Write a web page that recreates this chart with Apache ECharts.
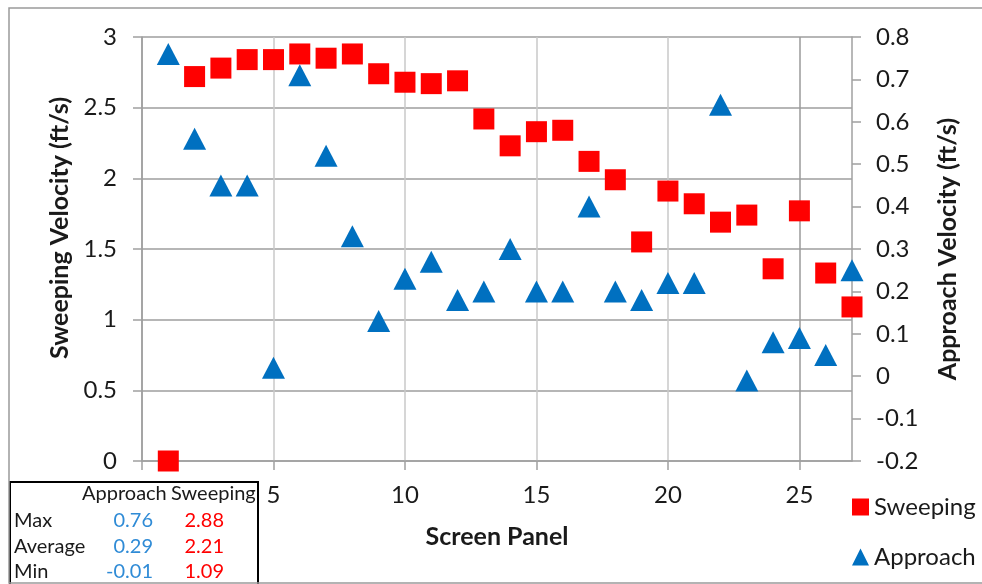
<!DOCTYPE html>
<html>
<head>
<meta charset="utf-8">
<script src="https://cdn.jsdelivr.net/npm/echarts@6/dist/echarts.min.js"></script>
<style>
  html, body { margin: 0; padding: 0; background: #fff; }
  #chart { width: 982px; height: 584px; }
</style>
</head>
<body>
<div id="chart"></div>
<script>
// Screen panel numbers along the horizontal axis
const panels = [1, 2, 3, 4, 5, 6, 7, 8, 9, 10, 11, 12, 13, 14, 15, 16, 17, 18, 19, 20, 21, 22, 23, 24, 25, 26, 27];

// Sweeping velocity per panel (ft/s), left axis
const sweeping = [0, 2.72, 2.78, 2.84, 2.84, 2.88, 2.85, 2.88, 2.74, 2.68, 2.67, 2.69, 2.42, 2.23, 2.33, 2.34, 2.12, 1.99, 1.55, 1.91, 1.82, 1.69, 1.74, 1.36, 1.77, 1.33, 1.09];

// Approach velocity per panel (ft/s), right axis
const approach = [0.76, 0.56, 0.45, 0.45, 0.02, 0.71, 0.52, 0.33, 0.13, 0.23, 0.27, 0.18, 0.20, 0.30, 0.20, 0.20, 0.40, 0.20, 0.18, 0.22, 0.22, 0.64, -0.01, 0.08, 0.09, 0.05, 0.25];

// Summary table
const statRows = ['Max', 'Average', 'Min'];
const approachStats = ['0.76', '0.29', '-0.01'];
const sweepingStats = ['2.88', '2.21', '1.09'];

// Axis tick labels
const xLabelValues = [5, 10, 15, 20, 25];
const xTickValues = [0, 5, 10, 15, 20, 25];

const FONT = 'Lato';
const TEXT = '#1a1a1a';
const BLUE = '#0070C0';
const RED = '#FF0000';
const AXIS_GRAY = '#a0a0a0';

// Plain hyphen-minus number formatting for tick labels
const fmt = (v) => String(Math.round(v * 10) / 10);

const chart = echarts.init(document.getElementById('chart'), null, { renderer: 'canvas' });

// Summary table drawn as a boxed block of text
const tableChildren = [
  { type: 'rect', shape: { x: 0, y: 0, width: 248, height: 110 },
    style: { fill: '#fff', stroke: '#000', lineWidth: 2 } },
  { type: 'text', x: 72, y: 12, style: { text: 'Approach', font: '20px ' + FONT, fill: TEXT, textVerticalAlign: 'middle' } },
  { type: 'text', x: 161, y: 12, style: { text: 'Sweeping', font: '20px ' + FONT, fill: TEXT, textVerticalAlign: 'middle' } }
];
const rowY = [39, 65, 90];
statRows.forEach((label, i) => {
  tableChildren.push({ type: 'text', x: 4, y: rowY[i],
    style: { text: label, font: '20px ' + FONT, fill: TEXT, textVerticalAlign: 'middle' } });
  tableChildren.push({ type: 'text', x: 143, y: rowY[i],
    style: { text: approachStats[i], font: '20px ' + FONT, fill: '#2F8BD6', textAlign: 'right', textVerticalAlign: 'middle' } });
  tableChildren.push({ type: 'text', x: 214, y: rowY[i],
    style: { text: sweepingStats[i], font: '20px ' + FONT, fill: RED, textAlign: 'right', textVerticalAlign: 'middle' } });
});

const option = {
  backgroundColor: '#fff',
  animation: false,
  textStyle: { fontFamily: FONT },
  grid: { left: 142, right: 130, top: 37, bottom: 123 },
  legend: {
    orient: 'vertical',
    left: 847,
    top: 490,
    itemWidth: 17,
    itemHeight: 17,
    itemGap: 26,
    textStyle: { fontFamily: FONT, fontSize: 24, color: TEXT, lineHeight: 24 },
    data: [
      { name: 'Sweeping', icon: 'rect', itemStyle: { opacity: 1 } },
      { name: 'Approach', icon: 'triangle', itemStyle: { opacity: 1 } }
    ]
  },
  xAxis: {
    type: 'value',
    min: 0,
    max: 27,
    interval: 1,
    name: 'Screen Panel',
    nameLocation: 'middle',
    nameGap: 63,
    nameTextStyle: { fontFamily: FONT, fontSize: 25, fontWeight: 'bold', color: TEXT },
    axisLine: { show: true, lineStyle: { color: AXIS_GRAY, width: 1.5 } },
    axisTick: { show: true, length: 9, customValues: xTickValues, lineStyle: { color: AXIS_GRAY, width: 1.5 } },
    axisLabel: { customValues: xLabelValues, margin: 22, fontFamily: FONT, fontSize: 24, color: TEXT },
    splitLine: {
      show: true,
      showMinLine: true,
      showMaxLine: true,
      lineStyle: { color: ['#9a9a9a', '#c8c8c8', '#c8c8c8', '#c8c8c8', '#c8c8c8'], width: 1.5 }
    }
  },
  yAxis: [
    {
      type: 'value',
      position: 'left',
      min: 0,
      max: 3,
      interval: 0.5,
      name: 'Sweeping Velocity (ft/s)',
      nameLocation: 'middle',
      nameRotate: 90,
      nameGap: 70,
      nameTextStyle: { fontFamily: FONT, fontSize: 25, fontWeight: 'bold', color: TEXT, padding: [0, 0, 0, 42] },
      axisLine: { show: true, lineStyle: { color: AXIS_GRAY, width: 1.5 } },
      axisTick: { show: true, length: 9, lineStyle: { color: AXIS_GRAY, width: 1.5 } },
      axisLabel: { margin: 25, fontFamily: FONT, fontSize: 24, color: TEXT, formatter: fmt },
      splitLine: { show: true, lineStyle: { color: '#9e9e9e', width: 1.5 } }
    },
    {
      type: 'value',
      position: 'right',
      min: -0.2,
      max: 0.8,
      interval: 0.1,
      name: 'Approach Velocity (ft/s)',
      nameLocation: 'middle',
      nameRotate: 90,
      nameGap: 83,
      nameTextStyle: { fontFamily: FONT, fontSize: 25, fontWeight: 'bold', color: TEXT },
      axisLine: { show: true, lineStyle: { color: AXIS_GRAY, width: 1.5 } },
      axisTick: { show: true, length: 9, lineStyle: { color: AXIS_GRAY, width: 1.5 } },
      axisLabel: { margin: 24, fontFamily: FONT, fontSize: 24, color: TEXT, formatter: fmt },
      splitLine: { show: false }
    }
  ],
  series: [
    {
      name: 'Sweeping',
      type: 'scatter',
      yAxisIndex: 0,
      symbol: 'rect',
      symbolSize: 21,
      clip: false,
      itemStyle: { color: RED, opacity: 1 },
      data: panels.map((p, i) => [p, sweeping[i]])
    },
    {
      name: 'Approach',
      type: 'scatter',
      yAxisIndex: 1,
      symbol: 'triangle',
      symbolSize: [23, 22],
      clip: false,
      itemStyle: { color: BLUE, opacity: 1 },
      data: panels.map((p, i) => [p, approach[i]])
    }
  ],
  graphic: [
    { type: 'rect', z: 1, silent: true,
      shape: { x: 9, y: 8, width: 1000, height: 575 },
      style: { fill: 'none', stroke: '#9a9a9a', lineWidth: 1.5 } },
    { type: 'group', x: 10, y: 482, z: 100, children: tableChildren }
  ]
};

chart.setOption(option);
</script>
</body>
</html>
